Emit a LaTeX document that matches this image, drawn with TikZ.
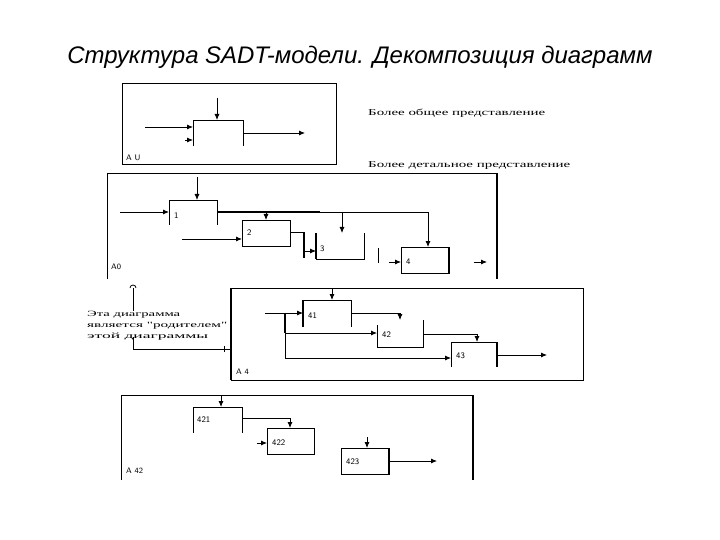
\documentclass[tikz,border=0pt]{standalone}
\usepackage{fontspec}
\setmainfont{Liberation Sans}
\newfontfamily\serifw{Liberation Serif}
\usetikzlibrary{arrows.meta}
\tikzset{
  ln/.style={line width=0.8pt},
  thk/.style={line width=2pt},
  ar/.style={ln,-{Latex[length=6pt,width=5pt]}},
  bx/.style={draw=none,anchor=north west,inner sep=0pt,outer sep=0pt,minimum width=48pt,minimum height=26pt},
  framebox/.style={draw,ln,anchor=north west,inner sep=0pt,outer sep=0pt},
  lab/.style={font=\sffamily\fontsize{8}{9}\selectfont,anchor=west,inner sep=0pt},
  num/.style={font=\sffamily\fontsize{8.5}{9}\selectfont,anchor=west,inner sep=0pt},
  note/.style={anchor=west,inner sep=0pt}
}
\begin{document}
\begin{tikzpicture}[x=1pt,y=-1pt]
\useasboundingbox (0,0) rectangle (720,540);
\fill[white] (0,0) rectangle (720,540);

% title
\node[inner sep=0pt] (title) at (360,57) {\resizebox{585pt}{!}{\itshape Структура SADT-модели. Декомпозиция диаграмм}};

% ---------- A-0 ----------
\node[framebox,minimum width=214pt,minimum height=81pt] (f0) at (122,83) {};
\node[lab] (f0l) at (126,158) {A U};
\node[bx,minimum width=50pt] (b0) at (193,120) {};
\draw[ln] (b0.south west) -- (b0.north west) -- (b0.north east) -- (b0.south east);
\coordinate (c0) at (217,98);
\draw[ar] (c0) -- (c0 |- b0.north);
\coordinate (i0) at (145,127);
\draw[ar] (i0) -- (i0 -| b0.west);
\coordinate (i0b) at (185,140);
\draw[ar] (i0b) -- (i0b -| b0.west);
\coordinate (o0) at (305,133);
\draw[ar] (o0 -| b0.east) -- (o0);

\node[note] (t1) at (368,113) {\resizebox{177pt}{\height}{\serifw\fontsize{9}{10}\selectfont Более общее представление}};
\node[note] (t2) at (368,166) {\resizebox{202pt}{\height}{\serifw\fontsize{9}{10}\selectfont Более детальное представление}};

% ---------- A0 ----------
\coordinate (f1a) at (107,279);
\coordinate (f1b) at (107,173);
\coordinate (f1c) at (497,173);
\coordinate (f1d) at (497,279);
\draw[ln] (f1a) -- (f1b) -- (f1c);
\draw[thk] (f1c) -- (f1d);
\node[lab] (f1l) at (111,267) {A0};

\node[bx,minimum height=25pt] (b1) at (169,200) {};
\draw[ln] (b1.south west) -- (b1.north west) -- (b1.north east) -- (b1.south east);
\node[num] (n1) at (174,216) {1};
\node[bx,draw,ln] (b2) at (242,220) {};
\node[num] (n2) at (247,233) {2};
\node[bx] (b3) at (316,233) {};
\draw[thk] (b3.north west) -- (b3.south west);
\draw[ln] (b3.south west) -- (b3.south east) -- (b3.north east);
\node[num] (n3) at (320,249) {3};
\node[bx,draw,ln] (b4) at (401,247) {};
\draw[thk] (b4.north east) -- (b4.south east);
\node[num] (n4) at (406,262) {4};

\coordinate (c1) at (197,177);
\draw[ar] (c1) -- (c1 |- b1.north);
\coordinate (i1) at (120,212);
\draw[ar] (i1) -- (i1 -| b1.west);
\coordinate (k1) at (428,212);
\draw[ar] (b1.east |- k1) -- (k1) -- (k1 |- b4.north);
\draw[line width=1.6pt] (b1.east |- k1) -- (320,212);
\draw[ar] (b2.north |- k1) -- (b2.north);
\coordinate (c3) at (342,212);
\draw[ar] (c3) -- (c3 |- b3.north);
\coordinate (i2) at (182,239);
\draw[ar] (i2) -- (i2 -| b2.west);
\coordinate (k2) at (304,232);
\coordinate (k2b) at (304,258);
\draw[ln] (k2 -| b2.east) -- (k2);
\draw[thk] (k2) -- (k2b);
\coordinate (i3) at (304,251);
\draw[ar] (i3) -- (i3 -| b3.west);
\coordinate (v4a) at (378,248);
\coordinate (v4b) at (378,263);
\draw[ln] (v4a) -- (v4b);
\coordinate (i4) at (389,262);
\draw[ar] (i4) -- (i4 -| b4.west);
\coordinate (o4a) at (474,262);
\coordinate (o4b) at (487,262);
\draw[ar] (o4a) -- (o4b);

% ---------- note ----------
\coordinate (na) at (133,288);
\coordinate (nb) at (133,311);
\draw[ln] ([xshift=-3pt]na) arc[start angle=180,end angle=360,radius=3];
\draw[ln] (na) -- (nb);
\node[anchor=north west,inner sep=0pt,align=left] (note) at (87,311) {%
\resizebox{93pt}{\height}{\serifw\fontsize{8}{9}\selectfont Эта диаграмма}\\[-1pt]
\resizebox{140pt}{\height}{\serifw\fontsize{8}{9}\selectfont является "родителем"}\\[-1pt]
\resizebox{121pt}{\height}{\serifw\fontsize{8}{9}\selectfont этой диаграммы}};
\coordinate (nc) at (133,337);
\coordinate (nd) at (133,349);

% ---------- A4 ----------
\node[framebox,minimum width=352pt,minimum height=92pt] (f2) at (231,288) {};
\draw[line width=1.4pt] (f2.north west) -- (f2.south west);
\node[lab] (f2l) at (236,372) {A 4};
\draw[ln] (nc) -- (nd) -- (nd -| f2.west);
\draw[ln] (224,346) -- (224,352);

\node[bx,minimum height=27pt] (b41) at (303,300) {};
\draw[thk] (b41.south west) -- (b41.north west);
\draw[ln] (b41.north west) -- (b41.north east) -- (b41.south east);
\node[num] (n41) at (308,316) {41};
\node[bx,minimum width=46pt,minimum height=27pt] (b42) at (377,320) {};
\draw[ln] ([yshift=-5pt]b42.north west) -- (b42.south west) -- (b42.south east) -- (b42.north east);
\node[num] (n42) at (382,335) {42};
\node[bx,minimum width=46pt,minimum height=25pt] (b43) at (451,342) {};
\draw[ln] (b43.south west) -- (b43.north west) -- (b43.north east);
\draw[thk] (b43.north east) -- (b43.south east);
\node[num] (n43) at (456,356) {43};

\coordinate (c41) at (332,288);
\draw[ar] (c41) -- (c41 |- b41.north);
\coordinate (i41) at (265,313);
\coordinate (j41) at (285,313);
\coordinate (j42) at (285,333);
\coordinate (j43) at (285,358);
\draw[ln] (i41) -- (j41);
\draw[ar] (j41) -- (j41 -| b41.west);
\draw[thk] (j41) -- (j42);
\draw[ln] (j42) -- (j43);
\draw[ar] (j42) -- (j42 -| b42.west);
\draw[ar] (j43) -- (j43 -| b43.west);
\coordinate (k41) at (400,313);
\draw[ar] (b41.east |- k41) -- (k41) -- (k41 |- b42.north);
\coordinate (k42) at (477,334);
\draw[ar] (b42.east |- k42) -- (k42) -- (k42 |- b43.north);
\coordinate (o43) at (547,355);
\draw[ar] (o43 -| b43.east) -- (o43);

% ---------- A42 ----------
\coordinate (f3a) at (121,480);
\coordinate (f3b) at (121,395);
\coordinate (f3c) at (473,395);
\coordinate (f3d) at (473,480);
\draw[ln] (f3a) -- (f3b) -- (f3c);
\draw[thk] (f3c) -- (f3d);
\node[lab] (f3l) at (126,471) {A 42};

\node[bx,minimum width=49pt] (b421) at (193,407) {};
\draw[ln] (b421.south west) -- (b421.north west) -- (b421.north east) -- (b421.south east);
\node[num] (n421) at (197,420) {421};
\node[bx,draw,ln,minimum width=47pt] (b422) at (267,428) {};
\node[num] (n422) at (272,443) {422};
\node[bx,draw,ln] (b423) at (341,448) {};
\draw[thk] (b423.north east) -- (b423.south east);
\node[num] (n423) at (346,462) {423};

\coordinate (c421) at (221,395);
\draw[ar] (c421) -- (c421 |- b421.north);
\coordinate (k421) at (290,418);
\draw[ar] (b421.east |- k421) -- (k421) -- (k421 |- b422.north);
\coordinate (i422) at (257,443);
\draw[ar] (i422) -- (i422 -| b422.west);
\coordinate (c423) at (367,437);
\draw[ar] (c423) -- (c423 |- b423.north);
\coordinate (o423) at (437,461);
\draw[ar] (o423 -| b423.east) -- (o423);
\end{tikzpicture}
\end{document}
